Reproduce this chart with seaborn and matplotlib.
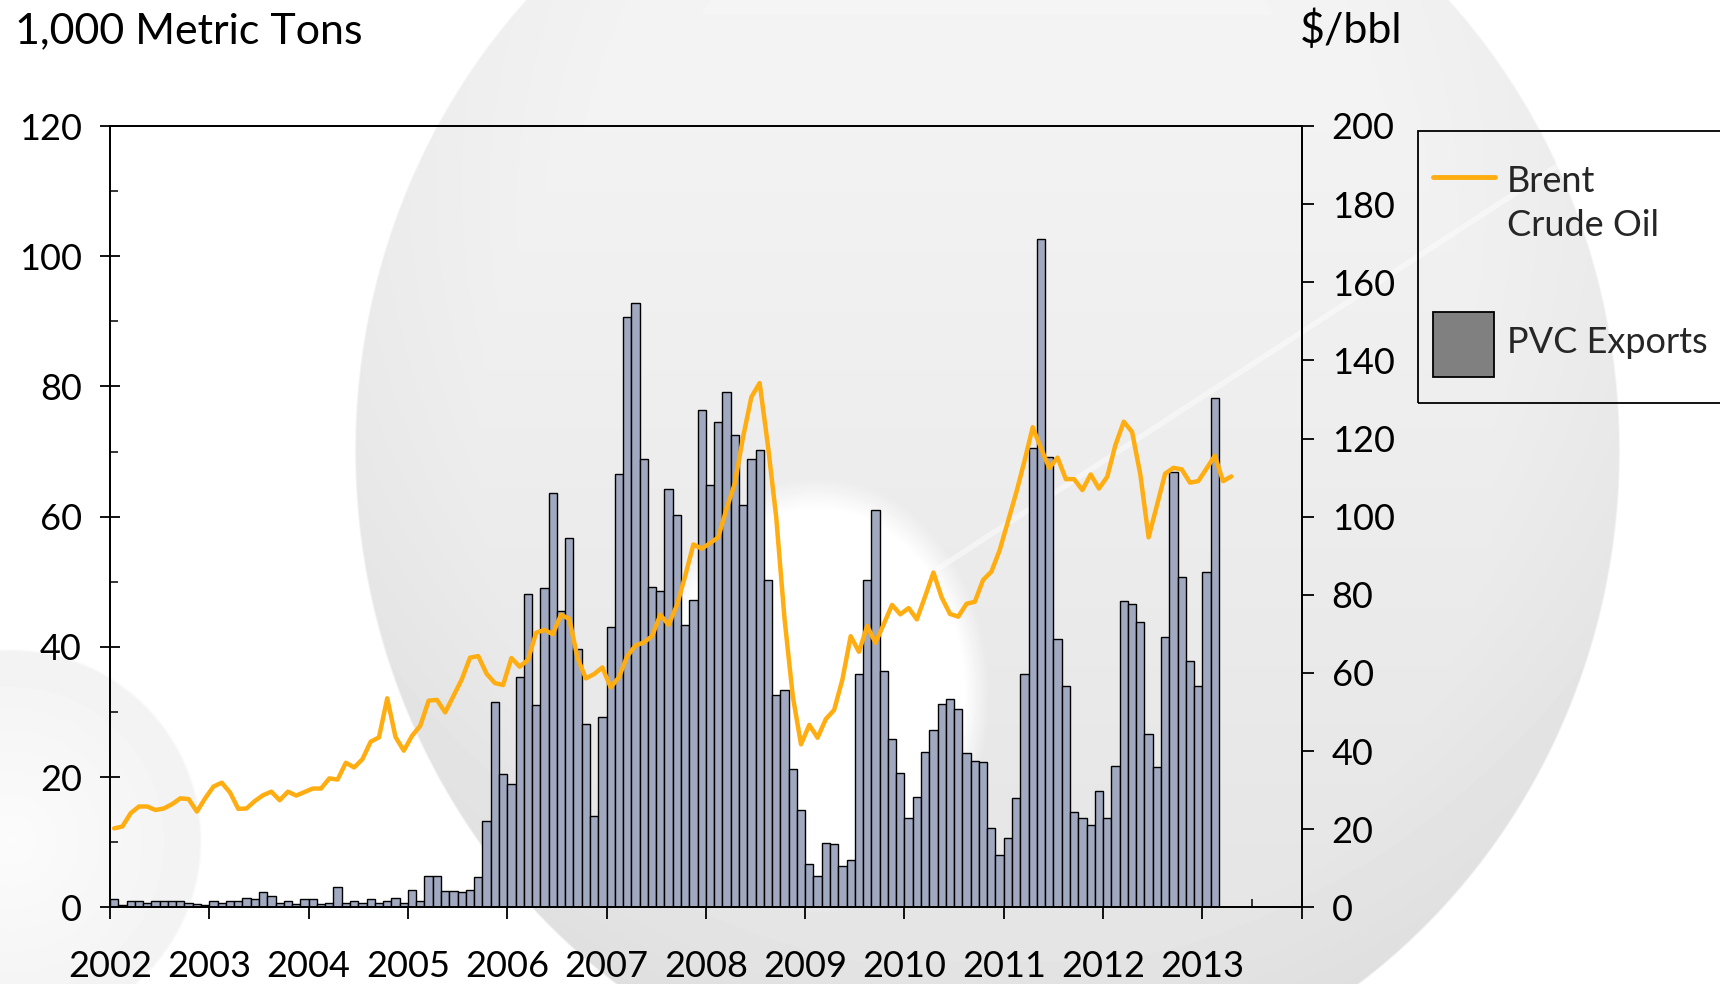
import numpy as np
import pandas as pd
import matplotlib
matplotlib.use("Agg")
import matplotlib.pyplot as plt
from matplotlib.patches import Rectangle
from matplotlib.lines import Line2D
import seaborn as sns

# ---------------- data ----------------
years = list(range(2002, 2014))
year_labels = [str(y) for y in years] + [""]

pvc_exports = [
    # 2002
    1.3, 0.4, 1.0, 1.0, 0.7, 1.0, 1.0, 1.0, 1.0, 0.7, 0.5, 0.3,
    # 2003
    1.0, 0.7, 1.0, 1.0, 1.5, 1.3, 2.3, 1.8, 0.7, 1.0, 0.5, 1.3,
    # 2004
    1.3, 0.5, 0.7, 3.1, 0.7, 1.0, 0.7, 1.3, 0.7, 1.0, 1.5, 0.7,
    # 2005
    2.6, 1.0, 4.8, 4.8, 2.5, 2.5, 2.3, 2.6, 4.6, 13.3, 31.6, 20.4,
    # 2006
    18.9, 35.3, 48.1, 31.0, 49.0, 63.6, 45.5, 56.7, 39.7, 28.1, 14.0, 29.2,
    # 2007
    43.0, 66.6, 90.6, 92.8, 68.9, 49.2, 48.6, 64.3, 60.3, 43.3, 47.2, 76.4,
    # 2008
    64.9, 74.6, 79.2, 72.6, 61.8, 68.9, 70.2, 50.2, 32.6, 33.3, 21.2, 15.0,
    # 2009
    6.6, 4.8, 9.9, 9.7, 6.4, 7.3, 35.9, 50.3, 61.0, 36.3, 25.8, 20.7,
    # 2010
    13.7, 17.0, 23.8, 27.3, 31.2, 32.0, 30.4, 23.7, 22.5, 22.3, 12.2, 8.1,
    # 2011
    10.6, 16.8, 35.9, 70.5, 102.7, 69.2, 41.2, 34.0, 14.7, 13.7, 12.7, 17.8,
    # 2012
    13.7, 21.7, 47.1, 46.6, 43.8, 26.6, 21.5, 41.5, 66.9, 50.7, 37.9, 34.0,
    # 2013
    51.5, 78.3,
]

brent = [
    # 2002
    20.2, 20.7, 24.1, 25.8, 25.8, 24.9, 25.3, 26.4, 27.9, 27.7, 24.5, 27.9,
    # 2003
    30.9, 31.9, 29.4, 25.2, 25.3, 27.2, 28.7, 29.6, 27.4, 29.6, 28.6, 29.5,
    # 2004
    30.4, 30.4, 33.0, 32.7, 37.0, 35.8, 37.9, 42.4, 43.5, 53.5, 43.6, 40.1,
    # 2005
    43.9, 46.5, 52.9, 53.1, 49.9, 54.1, 58.3, 63.9, 64.3, 59.8, 57.4, 56.9,
    # 2006
    63.8, 61.6, 63.3, 70.3, 71.0, 69.9, 74.9, 73.8, 63.8, 58.6, 59.7, 61.4,
    # 2007
    56.3, 58.9, 64.3, 67.0, 67.8, 69.4, 74.9, 72.3, 77.3, 84.8, 92.9, 91.8,
    # 2008
    93.2, 94.7, 102.0, 108.5, 120.4, 130.6, 134.2, 118.2, 99.9, 74.0, 54.1, 41.7,
    # 2009
    46.7, 43.4, 48.2, 50.5, 58.3, 69.4, 65.4, 72.0, 67.7, 72.5, 77.4, 75.0,
    # 2010
    76.6, 73.7, 79.6, 85.7, 79.3, 75.1, 74.4, 77.7, 78.2, 83.8, 85.9, 91.4,
    # 2011
    98.8, 106.1, 114.2, 122.9, 117.5, 112.5, 115.1, 109.6, 109.6, 106.8, 110.8, 107.2,
    # 2012
    110.2, 118.4, 124.3, 121.7, 110.8, 94.7, 102.8, 111.0, 112.5, 112.1, 108.7, 109.1,
    # 2013
    112.3, 115.6, 109.1, 110.3,
]

left_ticks = list(range(0, 121, 20))
right_ticks = list(range(0, 201, 20))

# month-centre positions in decimal years
pvc_x = [2002 + (i + 0.5) / 12 for i in range(len(pvc_exports))]
brent_x = [2002 + (i + 0.5) / 12 for i in range(len(brent))]
df_pvc = pd.DataFrame({"date": pvc_x, "pvc": pvc_exports})
df_brent = pd.DataFrame({"date": brent_x, "brent": brent})

# ---------------- style ----------------
sns.set_style("ticks")
plt.rcParams["font.family"] = ["Lato", "DejaVu Sans"]

W, H = 1720, 984
fig = plt.figure(figsize=(W / 100, H / 100), dpi=100)
fig.patch.set_facecolor("white")

# ---------------- decorative background ----------------
bg_ax = fig.add_axes([0, 0, 1, 1], zorder=-10)
yy, xx = np.mgrid[0:H, 0:W].astype(float)
bg = np.ones((H, W))
# large sphere
d1 = np.sqrt(((xx - 987) / 633) ** 2 + ((yy - 450) / 660) ** 2)
shade1 = 0.958 - 0.065 * (yy / H) - 0.02 * np.clip((d1 - 0.8) / 0.2, 0, 1)
m1 = np.clip((1 - d1) * 300, 0, 1)
bg = bg * (1 - m1) + shade1 * m1
# white highlight inside the sphere
d2 = np.sqrt(((xx - 817) / 172) ** 2 + ((yy - 695) / 218) ** 2)
m2 = np.clip((1 - d2) / 0.15, 0, 1)
bg = bg * (1 - m2) + 1.0 * m2
# small sphere bottom-left
d3 = np.sqrt((xx - 10) ** 2 + (yy - 840) ** 2) / 192
m3 = np.clip((1 - d3) * 60, 0, 1)
shade3 = 0.95 + 0.035 * np.clip(1 - d3, 0, 1)
bg = np.minimum(bg, bg * (1 - m3) + shade3 * m3)
bg_ax.imshow(bg, cmap="gray", vmin=0, vmax=1, extent=(0, W, H, 0),
             aspect="auto", interpolation="bilinear")
bg_ax.plot([790, 1720], [665, 60], color="white", lw=4, alpha=0.45,
           solid_capstyle="round")
bg_ax.set_xlim(0, W)
bg_ax.set_ylim(H, 0)
bg_ax.axis("off")

# ---------------- main axes ----------------
x0, x1 = 110, 1301.7
y_top, y_bot = 126, 907.3
ax = fig.add_axes([x0 / W, (H - y_bot) / H, (x1 - x0) / W, (y_bot - y_top) / H])
ax.set_facecolor("none")

sns.barplot(data=df_pvc, x="date", y="pvc", native_scale=True, width=1.0,
            color="#A0A9BF", saturation=1, edgecolor="black", linewidth=1.0,
            errorbar=None, ax=ax)

ax2 = ax.twinx()
ax2.set_facecolor("none")
sns.lineplot(data=df_brent, x="date", y="brent", color="#FFAD10", lw=3.2,
             ax=ax2, legend=False)

ax.set_xlim(2002, 2014)
ax.set_ylim(0, 120)
ax2.set_ylim(0, 200)

ax.set_xticks(list(range(2002, 2015)))
ax.set_xticklabels(year_labels)
ax.set_xticks([2013.5], minor=True)
ax.set_yticks(left_ticks)
ax.set_yticklabels([str(v) for v in left_ticks])
ax.set_yticks(list(range(10, 120, 20)), minor=True)
ax2.set_yticks(right_ticks)
ax2.set_yticklabels([str(v) for v in right_ticks])

for a in (ax, ax2):
    a.set_xlabel("")
    a.set_ylabel("")
    for s in a.spines.values():
        s.set_visible(True)
        s.set_color("black")
        s.set_linewidth(1.3)

ax.tick_params(axis="y", which="major", direction="inout", length=14.4,
               width=1.3, labelsize=26, pad=13, colors="black")
ax.tick_params(axis="y", which="minor", direction="in", length=5.8,
               width=1.3)
ax.tick_params(axis="x", which="major", direction="out", length=8.6,
               width=1.3, labelsize=26, pad=22, colors="black")
ax.tick_params(axis="x", which="minor", direction="in", length=6,
               width=1.3)
ax2.tick_params(axis="y", which="major", direction="out", length=8.6,
                width=1.3, labelsize=26, pad=13, colors="black")
ax2.tick_params(axis="y", which="minor", length=0)

# ---------------- axis titles ----------------
fig.text(15 / W, 1 - 43 / H, "1,000 Metric Tons", fontsize=31,
         ha="left", va="baseline", color="black")
fig.text(1402 / W, 1 - 43 / H, "$/bbl", fontsize=31,
         ha="right", va="baseline", color="black")

# ---------------- legend (drawn to match the reference layout) ----------------
def fx(px):
    return px / W


def fy(py):
    return 1 - py / H


fig.add_artist(Rectangle((fx(1418), fy(402.7)), fx(1724) - fx(1418),
                         fy(130.7) - fy(402.7), transform=fig.transFigure,
                         facecolor="none", edgecolor="black", lw=1.3))
fig.add_artist(Line2D([fx(1433), fx(1495)], [fy(177), fy(177)],
                      transform=fig.transFigure, color="#FFAD10", lw=3.5))
fig.text(fx(1507), fy(192), "Brent", fontsize=26, va="baseline", ha="left")
fig.text(fx(1507), fy(236), "Crude Oil", fontsize=26, va="baseline", ha="left")
fig.add_artist(Rectangle((fx(1433), fy(377)), fx(1494) - fx(1433),
                         fy(312) - fy(377), transform=fig.transFigure,
                         facecolor="#808080", edgecolor="black", lw=1.3))
fig.text(fx(1507), fy(353), "PVC Exports", fontsize=26, va="baseline", ha="left")

fig.savefig("out.png", dpi=100)
